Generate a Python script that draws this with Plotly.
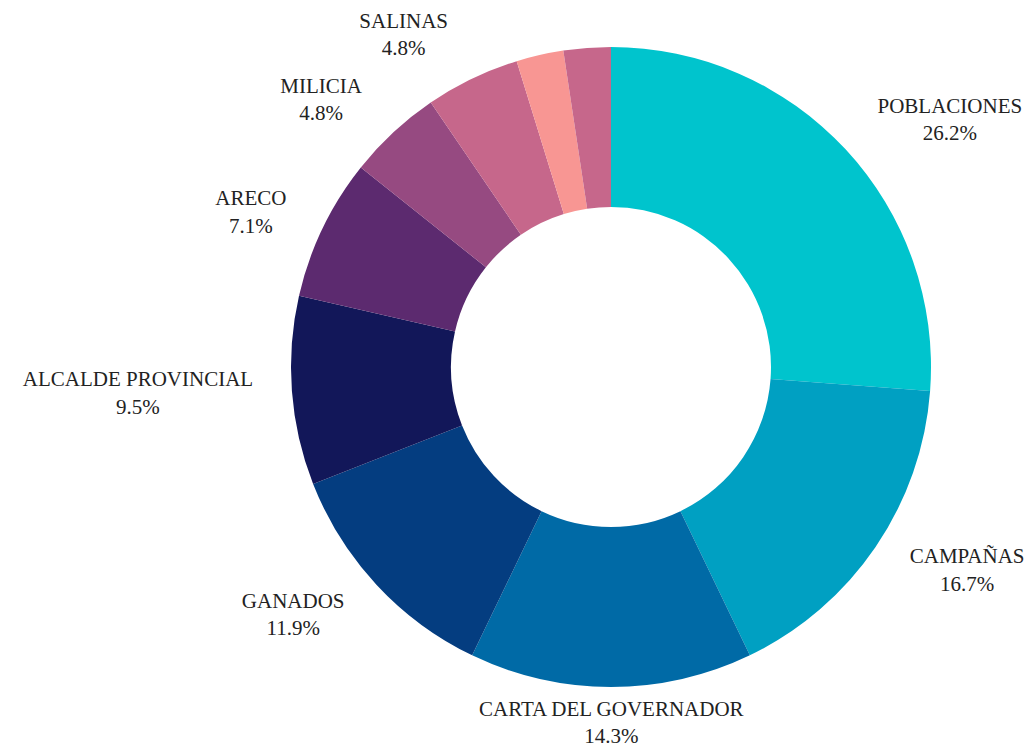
import math
import plotly.graph_objects as go

categories = ["POBLACIONES", "CAMPAÑAS", "CARTA DEL GOVERNADOR", "GANADOS",
              "ALCALDE PROVINCIAL", "ARECO", "MILICIA", "SALINAS", "OTRO A", "OTRO B"]
counts = [11, 7, 6, 5, 4, 3, 2, 2, 1, 1]
show_label = [True, True, True, True, True, True, True, True, False, False]
colors = ["#00C4CD", "#00A0C2", "#006AA6", "#043D80", "#121759",
          "#5C2A6F", "#964A81", "#C6678B", "#F89693", "#C6678B"]

total = sum(counts)
texts = [f"{c}<br>{v / total * 100:.1f}%" if s else ""
         for c, v, s in zip(categories, counts, show_label)]

W, H = 1033, 754
cx, cy, R = 611, 367, 320
GAP = 26
FONT = "Liberation Serif, Times New Roman, serif"
FSIZE = 21


def dom(r):
    return dict(x=[(cx - r) / W, (cx + r) / W], y=[1 - (cy + r) / H, 1 - (cy - r) / H])


# labels whose slice midpoint points straight down/up are centred (annotation);
# the others use the pie's own outside placement
pie_texts, annotations = [], []
cum = 0
for t, v in zip(texts, counts):
    mid = math.radians(90 - (cum + v / 2) / total * 360)
    cum += v
    if t and abs(math.cos(mid)) < 0.05:
        pie_texts.append("")
        down = math.sin(mid) < 0
        r_lab = R + 9
        annotations.append(dict(
            text=t, showarrow=False, xref="paper", yref="paper",
            x=(cx + r_lab * math.cos(mid)) / W,
            y=1 - (cy - r_lab * math.sin(mid)) / H,
            xanchor="center", yanchor="top" if down else "bottom",
            borderpad=0,
            font=dict(family=FONT, size=FSIZE, color="#222222"),
        ))
    else:
        pie_texts.append(t)

fig = go.Figure()
# visible donut
fig.add_trace(go.Pie(
    labels=categories, values=counts,
    textinfo="none", hole=0.5, sort=False, direction="clockwise", rotation=0,
    marker=dict(colors=colors, line=dict(width=0)),
    showlegend=False, domain=dom(R), automargin=False,
))
# transparent ring used only to place labels slightly away from the donut
fig.add_trace(go.Pie(
    labels=categories, values=counts, text=pie_texts,
    textinfo="text", textposition="outside", hole=0.99,
    sort=False, direction="clockwise", rotation=0,
    marker=dict(colors=["rgba(0,0,0,0)"] * len(counts), line=dict(width=0)),
    outsidetextfont=dict(family=FONT, size=FSIZE, color="#222222"),
    hoverinfo="skip", showlegend=False, domain=dom(R + GAP), automargin=False,
))
fig.update_layout(
    width=W, height=H,
    margin=dict(l=0, r=0, t=0, b=0, autoexpand=False),
    paper_bgcolor="white", plot_bgcolor="white",
    font=dict(family=FONT),
    annotations=annotations,
)
fig.write_html("out.html")
